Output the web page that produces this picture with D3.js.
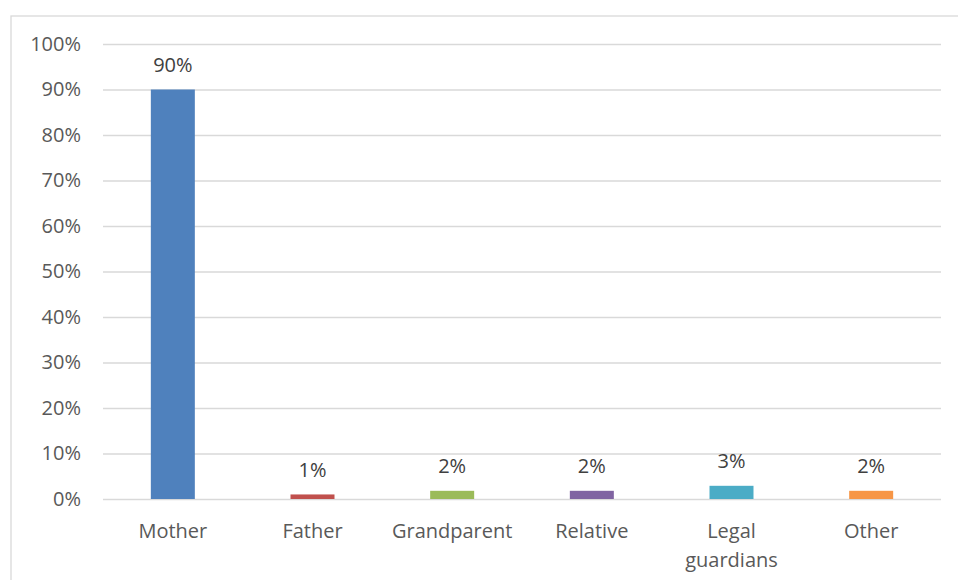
<!DOCTYPE html>
<html><head><meta charset="utf-8">
<script src="https://cdn.jsdelivr.net/npm/d3@7"></script>
<style>body{margin:0;background:#fff}svg{display:block}</style>
</head><body>
<svg id="chart" width="958" height="580"></svg>
<script>
const categories = ["Mother","Father","Grandparent","Relative","Legal guardians","Other"];
const values = [90, 1, 1.8, 1.8, 2.9, 1.8];
const labels = ["90%","1%","2%","2%","3%","2%"];
const colors = ["#4f81bd","#c0504d","#9bbb59","#8064a2","#4bacc6","#f79646"];
const yTicks = [0,10,20,30,40,50,60,70,80,90,100];

const svg = d3.select("#chart");
const font = "'Open Sans', sans-serif";
const fs = "20px";
// chart border
svg.append("rect").attr("x",11).attr("y",16).attr("width",960).attr("height",600)
  .attr("fill","none").attr("stroke","#d9d9d9").attr("stroke-width",1.3);

const m = {left:103, right:941, top:44, bottom:499};
const x = d3.scaleBand().domain(categories).range([m.left,m.right]).paddingInner(0.685).paddingOuter(0.3425);
const y = d3.scaleLinear().domain([0,100]).range([m.bottom,m.top]);

// gridlines
const yAxis = d3.axisLeft(y).tickValues(yTicks).tickFormat(d=>d+"%").tickSize(-(m.right-m.left)).tickPadding(22);
const gy = svg.append("g").attr("transform",`translate(${m.left},0)`).call(yAxis);
gy.select(".domain").remove();
gy.selectAll(".tick line").attr("stroke","#d9d9d9").attr("stroke-width",1.3);
gy.selectAll(".tick text").attr("fill","#595959").style("font-family",font).style("font-size",fs);

// bars
svg.append("g").selectAll("rect").data(categories).join("rect")
  .attr("x",d=>x(d)).attr("width",x.bandwidth())
  .attr("y",(d,i)=>y(values[i])).attr("height",(d,i)=>y(0)-y(values[i]))
  .attr("fill",(d,i)=>colors[i]);

// data labels
svg.append("g").selectAll("text").data(categories).join("text")
  .attr("x",d=>x(d)+x.bandwidth()/2).attr("y",(d,i)=>y(values[i])-17.5)
  .attr("text-anchor","middle").attr("fill","#404040")
  .style("font-family",font).style("font-size",fs)
  .text((d,i)=>labels[i]);

// x axis labels
const xl = svg.append("g").selectAll("text").data(categories).join("text")
  .attr("x",d=>x(d)+x.bandwidth()/2).attr("y",538)
  .attr("text-anchor","middle").attr("fill","#595959")
  .style("font-family",font).style("font-size",fs);
xl.each(function(d){
  const t = d3.select(this);
  const parts = d==="Legal guardians" ? ["Legal","guardians"] : [d];
  parts.forEach((p,i)=>t.append("tspan").attr("x",x(d)+x.bandwidth()/2).attr("dy",i?29:0).text(p));
});
</script>
</body></html>
